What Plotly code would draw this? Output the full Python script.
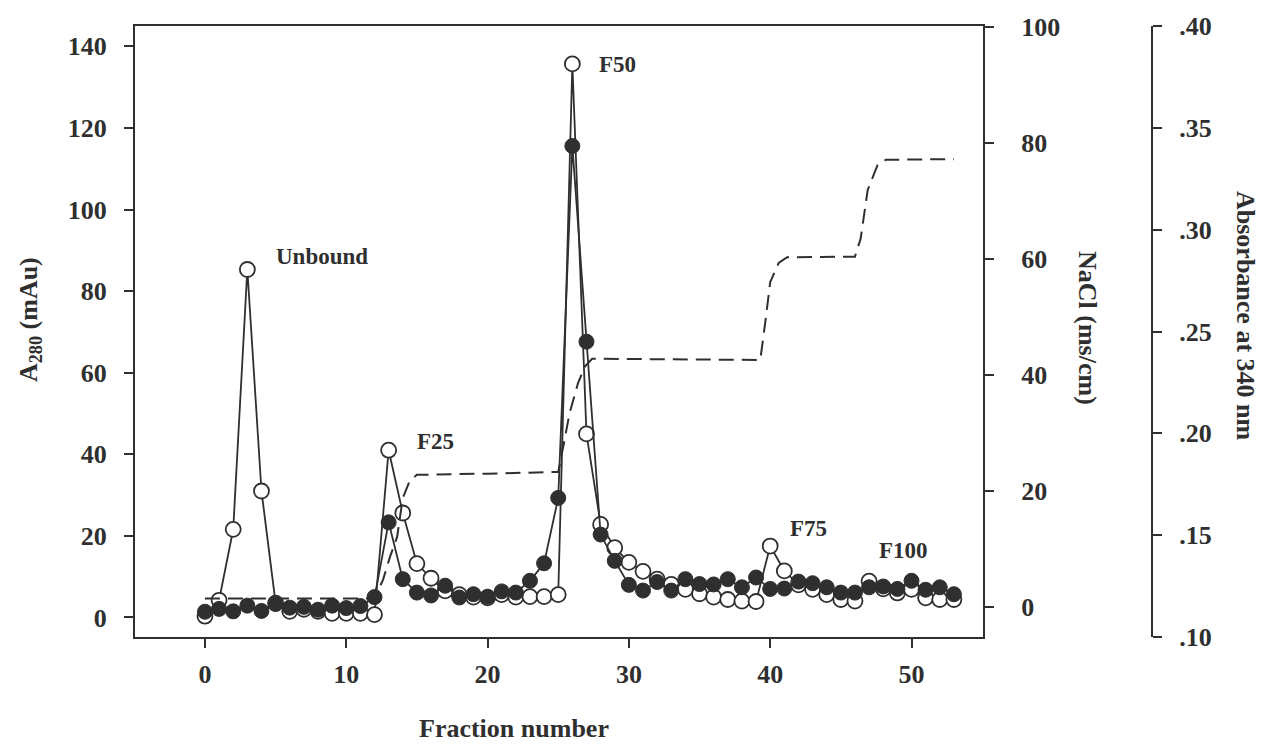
import plotly.graph_objects as go

# ---- data ----
fraction = list(range(0, 54))

a280_open = [0.3, 4.2, 21.6, 85.3, 31.0, 3.5, 1.5, 2.0, 1.5, 1.0,
             1.0, 1.0, 0.7, 41.0, 25.6, 13.2, 9.6, 6.5, 5.6, 5.0,
             4.8, 5.6, 5.0, 5.1, 5.1, 5.6, 135.7, 45.0, 22.8, 17.1,
             13.5, 11.3, 9.4, 8.1, 6.9, 5.8, 5.0, 4.4, 4.0, 3.9,
             17.5, 11.4, 8.0, 6.9, 5.6, 4.4, 4.0, 8.9, 7.0, 6.0,
             6.9, 4.8, 4.4, 4.4]

abs340_filled = [0.1124, 0.1138, 0.1126, 0.1154, 0.1128, 0.1162, 0.1144, 0.1148, 0.1134, 0.1154,
                 0.1142, 0.1152, 0.1196, 0.1563, 0.1284, 0.1218, 0.1204, 0.1252, 0.1194, 0.1210,
                 0.1198, 0.1224, 0.1218, 0.1276, 0.1362, 0.1683, 0.3411, 0.2450, 0.1503, 0.1374,
                 0.1256, 0.1228, 0.1270, 0.1228, 0.1284, 0.1260, 0.1258, 0.1284, 0.1244, 0.1292,
                 0.1236, 0.1238, 0.1272, 0.1264, 0.1244, 0.1218, 0.1218, 0.1244, 0.1248, 0.1236,
                 0.1276, 0.1232, 0.1244, 0.1210]

nacl_fraction = [0, 12.0, 12.6, 13.1, 13.6, 14.0, 14.5, 15.0, 20.0, 25.0, 25.4, 25.8, 26.4,
                 26.9, 27.4, 33.0, 39.3, 39.7, 40.0, 40.6, 41.2, 46.0, 46.4, 46.9, 47.6, 48.2, 53.0]
nacl_cond = [1.5, 1.5, 4.7, 8.7, 12.1, 18.8, 21.8, 22.8, 23.0, 23.3, 28.2, 33.4, 38.6,
             41.5, 42.8, 42.7, 42.6, 50.0, 56.0, 59.3, 60.3, 60.4, 63.5, 71.9, 76.2, 77.1, 77.2]

peak_labels = ["Unbound", "F25", "F50", "F75", "F100"]
peak_x = [8.3, 16.35, 29.2, 42.7, 49.4]
peak_y = [88.5, 43.1, 135.5, 21.8, 16.4]

x_ticks = [0, 10, 20, 30, 40, 50]
y_ticks = [0, 20, 40, 60, 80, 100, 120, 140]
y2_ticks = [0, 20, 40, 60, 80, 100]
y3_ticks = [0.10, 0.15, 0.20, 0.25, 0.30, 0.35, 0.40]
y3_ticktext = [".10", ".15", ".20", ".25", ".30", ".35", ".40"]

# ---- style ----
INK = "#2f2f2f"
FONT = "Liberation Serif"
W, H = 1261, 744
ML, MR, MT, MB = 135, 61, 26, 107
PW = W - ML - MR
PH = H - MT - MB
x_dom_end = (983 - ML) / PW
y3_pos = (1152 - ML) / PW

fig = go.Figure()

fig.add_trace(go.Scatter(
    x=nacl_fraction, y=nacl_cond, mode="lines", yaxis="y2",
    line=dict(color=INK, width=2, dash="15px,8px"), showlegend=False))

fig.add_trace(go.Scatter(
    x=fraction, y=a280_open, mode="lines+markers", yaxis="y",
    line=dict(color=INK, width=1.8),
    marker=dict(symbol="circle", size=15, color="white",
                line=dict(color=INK, width=1.8)),
    showlegend=False))

fig.add_trace(go.Scatter(
    x=fraction, y=abs340_filled, mode="lines+markers", yaxis="y3",
    line=dict(color=INK, width=1.8),
    marker=dict(symbol="circle", size=15, color=INK,
                line=dict(color=INK, width=1)),
    showlegend=False))

tickfont = dict(family=FONT, size=26, color=INK, weight="bold")

fig.update_layout(
    width=W, height=H,
    margin=dict(l=ML, r=MR, t=MT, b=MB),
    paper_bgcolor="white", plot_bgcolor="white",
    font=dict(family=FONT, color=INK),
    xaxis=dict(domain=[0, x_dom_end], range=[-4.95, 55.06],
               tickvals=x_ticks, ticks="outside", ticklen=9, tickwidth=2,
               tickcolor=INK, showline=True, linecolor=INK, linewidth=2,
               mirror=True, showgrid=False, zeroline=False,
               tickfont=tickfont, ticklabelstandoff=4),
    yaxis=dict(range=[-4.8, 145.0], tickvals=y_ticks, ticks="outside",
               ticklen=9, tickwidth=2, tickcolor=INK, showline=True,
               linecolor=INK, linewidth=2, showgrid=False, zeroline=False,
               tickfont=tickfont, ticklabelstandoff=12),
    yaxis2=dict(range=[-5.15, 100.15], tickvals=y2_ticks, overlaying="y",
                side="right", anchor="x", ticks="outside", ticklen=9,
                tickwidth=2, tickcolor=INK, showline=True, linecolor=INK,
                linewidth=2, showgrid=False, zeroline=False,
                tickfont=tickfont, ticklabelstandoff=22),
    yaxis3=dict(range=[0.10, 0.40], tickvals=y3_ticks, ticktext=y3_ticktext,
                overlaying="y", side="right", anchor="free", position=y3_pos,
                ticks="outside", ticklen=9, tickwidth=2, tickcolor=INK,
                showline=True, linecolor=INK, linewidth=2, showgrid=False,
                zeroline=False, tickfont=tickfont, ticklabelstandoff=12),
)

# peak labels
for t, px, py in zip(peak_labels, peak_x, peak_y):
    fig.add_annotation(x=px, y=py, xref="x", yref="y", text=t, showarrow=False,
                       xanchor="center", yanchor="middle",
                       font=dict(family=FONT, size=23, color=INK, weight="bold"))

title_font = dict(family=FONT, size=26, color=INK, weight="bold")
titles = [
    ("Fraction number", 513.5, 728, 0),
    ("A<sub>280</sub> (mAu)", 30, 320, -90),
    ("NaCl (ms/cm)", 1087, 328, 90),
    ("Absorbance at 340 nm", 1246, 316, 90),
]
for text, px, py, ang in titles:
    fig.add_annotation(x=(px - ML) / PW, y=(637 - py) / PH, xref="paper", yref="paper",
                       text=text, textangle=ang, showarrow=False,
                       xanchor="center", yanchor="middle", font=title_font)

fig.write_html("out.html")
